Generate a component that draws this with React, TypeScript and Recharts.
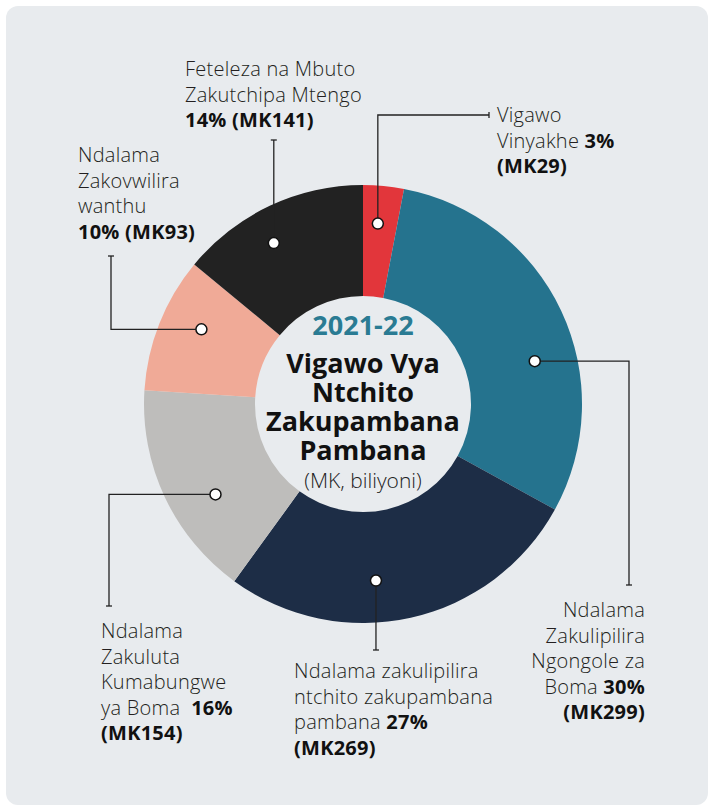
import React from 'react';
import { PieChart, Pie, Cell } from 'recharts';

// ---------- data ----------
const categories = [
  'Vigawo Vinyakhe',
  'Ndalama Zakulipilira Ngongole za Boma',
  'Ndalama zakulipilira ntchito zakupambana pambana',
  'Ndalama Zakuluta Kumabungwe ya Boma',
  'Ndalama Zakovwilira wanthu',
  'Feteleza na Mbuto Zakutchipa Mtengo',
];
const valuesMK = [29, 299, 269, 154, 93, 141];
const percents = [3, 30, 27, 16, 10, 14];
const labelLines = [
  ['Vigawo', 'Vinyakhe **{p}%**', '**(MK{v})**'],
  ['Ndalama', 'Zakulipilira', 'Ngongole za', 'Boma **{p}%**', '**(MK{v})**'],
  ['Ndalama zakulipilira', 'ntchito zakupambana', 'pambana **{p}%**', '**(MK{v})**'],
  ['Ndalama', 'Zakuluta', 'Kumabungwe', 'ya Boma\u00a0\u00a0**{p}%**', '**(MK{v})**'],
  ['Ndalama', 'Zakovwilira', 'wanthu', '**{p}% (MK{v})**'],
  ['Feteleza na Mbuto', 'Zakutchipa Mtengo', '**{p}% (MK{v})**'],
];
const centerYear = '2021-22';
const centerTitle = ['Vigawo Vya', 'Ntchito', 'Zakupambana', 'Pambana'];
const centerUnit = '(MK, biliyoni)';

// ---------- styles / layout ----------
const colors = ['#e2363b', '#25738e', '#1d2d46', '#bebdbb', '#f0aa97', '#222222'];
const FONT = '"Open Sans", "Liberation Sans", Arial, sans-serif';
const TEXT = '#231f20';
const LINE_H = 25.5;
type Seg = [string, number];
const labelLayout: { dAng: number; r: number; path: Seg[]; tx: number; ty: number; anchor: string }[] = [
  { dAng: -0.7, r: 181, path: [['v', 115], ['h', 489]], tx: 497, ty: 122, anchor: 'start' },
  { dAng: 11.2, r: 177, path: [['h', 629], ['v', 585]], tx: 645, ty: 617, anchor: 'end' },
  { dAng: 8.4, r: 177, path: [['v', 650]], tx: 294, ty: 678, anchor: 'start' },
  { dAng: -6.3, r: 173, path: [['h', 109], ['v', 606]], tx: 101, ty: 638, anchor: 'start' },
  { dAng: 3.2, r: 178, path: [['h', 111], ['v', 256]], tx: 78, ty: 162, anchor: 'start' },
  { dAng: -3.8, r: 184, path: [['v', 140]], tx: 185, ty: 76, anchor: 'start' },
];

const data = categories.map((name, i) => ({ name, value: valuesMK[i], pct: percents[i] }));

const RAD = Math.PI / 180;

function renderLine(line: string, p: number, v: number) {
  const filled = line.replace('{p}', String(p)).replace('{v}', String(v));
  const parts = filled.split('**');
  return parts
    .map((t, k) =>
      t.length === 0 ? null : (
        <tspan key={k} fontWeight={k % 2 === 1 ? 700 : 300} fill={k % 2 === 1 ? '#111' : TEXT}>
          {t}
        </tspan>
      )
    )
    .filter(Boolean);
}

function renderLabel(props: any) {
  const { cx, cy, midAngle, index } = props;
  const L = labelLayout[index];
  const ang = midAngle - L.dAng;
  const dx = cx + L.r * Math.cos(-ang * RAD);
  const dy = cy + L.r * Math.sin(-ang * RAD);
  const pts: [number, number][] = [[dx, dy]];
  let cxp = dx;
  let cyp = dy;
  L.path.forEach(([dir, val]) => {
    if (dir === 'v') cyp = val;
    else cxp = val;
    pts.push([cxp, cyp]);
  });
  const last = L.path[L.path.length - 1][0];
  const tick =
    last === 'v'
      ? `M${cxp - 3},${cyp} L${cxp + 3},${cyp}`
      : `M${cxp},${cyp - 3} L${cxp},${cyp + 3}`;
  const d = 'M' + pts.map((q) => `${q[0]},${q[1]}`).join(' L');
  const lines = labelLines[index];
  const item = data[index];
  return (
    <g key={`lbl-${index}`}>
      <path d={d} stroke="#222" strokeWidth={1.3} fill="none" />
      <path d={tick} stroke="#222" strokeWidth={1.3} fill="none" />
      <circle cx={dx} cy={dy} r={5.5} fill="#fff" stroke="#111" strokeWidth={1.5} />
      <text
        x={L.tx}
        y={L.ty}
        textAnchor={L.anchor as any}
        fontFamily={FONT}
        fontSize={20}
        letterSpacing={0.25}
        fill={TEXT}
      >
        {lines.map((ln, k) => (
          <tspan key={k} x={L.tx} y={L.ty + k * LINE_H}>
            {renderLine(ln, item.pct, item.value)}
          </tspan>
        ))}
      </text>
      {index === 0 ? (
        <g>
          <text x={cx} y={335} textAnchor="middle" fontFamily={FONT} fontWeight={700} fontSize={27} fill="#2a7b93">
            {centerYear}
          </text>
          <text textAnchor="middle" fontFamily={FONT} fontWeight={700} fontSize={27} fill="#111">
            {centerTitle.map((t, k) => (
              <tspan key={k} x={cx} y={373 + k * 29}>
                {t}
              </tspan>
            ))}
          </text>
          <text x={cx} y={488} textAnchor="middle" fontFamily={FONT} fontWeight={300} fontSize={21} fill="#222">
            {centerUnit}
          </text>
        </g>
      ) : null}
    </g>
  );
}

export default function App() {
  return (
    <div style={{ position: 'absolute', left: 0, top: 0, width: 709, height: 809 }}>
      <div
        style={{
          position: 'absolute',
          left: 6,
          top: 6,
          width: 702,
          height: 799,
          background: '#e8ebee',
          borderRadius: 12,
        }}
      />
      <div style={{ position: 'absolute', left: 0, top: 0 }}>
        <PieChart width={709} height={809} margin={{ top: 0, right: 0, bottom: 0, left: 0 }}>
          <Pie
            data={data}
            dataKey="pct"
            nameKey="name"
            cx={363}
            cy={404}
            innerRadius={108}
            outerRadius={219}
            startAngle={90}
            endAngle={-270}
            stroke="none"
            isAnimationActive={false}
            labelLine={false}
            label={renderLabel}
          >
            {data.map((d, i) => (
              <Cell key={d.name} fill={colors[i]} />
            ))}
          </Pie>
        </PieChart>
      </div>
    </div>
  );
}
